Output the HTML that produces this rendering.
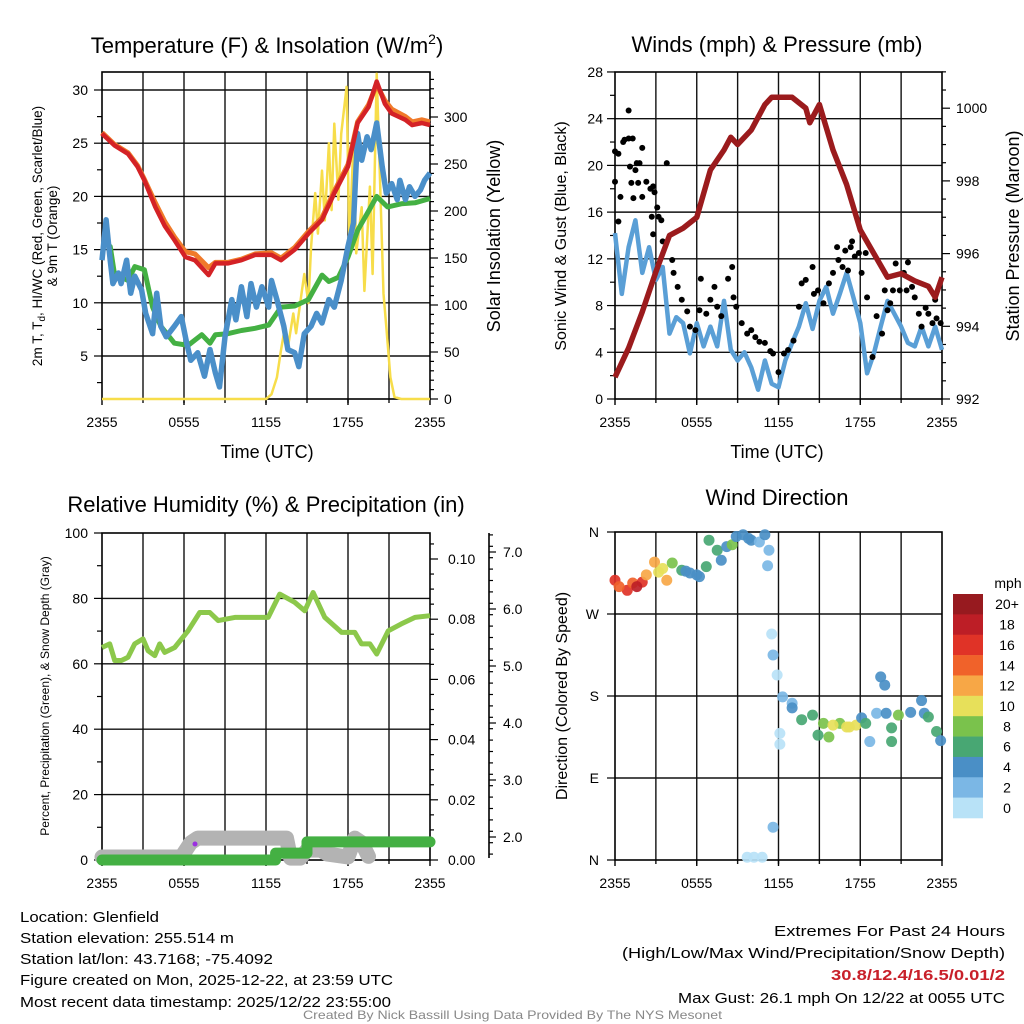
<!DOCTYPE html>
<html><head><meta charset="utf-8"><style>
html,body{margin:0;padding:0;background:#fff}
svg{display:block;font-family:"Liberation Sans",sans-serif}
</style></head><body>
<svg id="c" width="1024" height="1024" viewBox="0 0 1024 1024" xmlns="http://www.w3.org/2000/svg">
<g id="g1"></g>
<g id="g2"></g>
<g id="g3"></g>
<g id="g4"></g>
<g id="info">
<text x="20" y="922" font-size="15" textLength="139" lengthAdjust="spacingAndGlyphs">Location: Glenfield</text>
<text x="20" y="943" font-size="15" textLength="214" lengthAdjust="spacingAndGlyphs">Station elevation: 255.514 m</text>
<text x="20" y="964" font-size="15" textLength="253" lengthAdjust="spacingAndGlyphs">Station lat/lon: 43.7168; -75.4092</text>
<text x="20" y="985" font-size="15" textLength="373" lengthAdjust="spacingAndGlyphs">Figure created on Mon, 2025-12-22, at 23:59 UTC</text>
<text x="20" y="1007" font-size="15" textLength="371" lengthAdjust="spacingAndGlyphs">Most recent data timestamp: 2025/12/22 23:55:00</text>
<text x="774" y="936" font-size="15" textLength="231" lengthAdjust="spacingAndGlyphs">Extremes For Past 24 Hours</text>
<text x="622" y="958" font-size="15" textLength="383" lengthAdjust="spacingAndGlyphs">(High/Low/Max Wind/Precipitation/Snow Depth)</text>
<text x="831" y="980" font-size="15" font-weight="bold" fill="#c8202a" textLength="174" lengthAdjust="spacingAndGlyphs">30.8/12.4/16.5/0.01/2</text>
<text x="678" y="1003" font-size="15" textLength="327" lengthAdjust="spacingAndGlyphs">Max Gust: 26.1 mph On 12/22 at 0055 UTC</text>
<text x="303" y="1019" font-size="12" fill="#888" textLength="419" lengthAdjust="spacingAndGlyphs">Created By Nick Bassill Using Data Provided By The NYS Mesonet</text>
</g>
</svg>
<script>
// ---------- Data ----------
const xLabels = ["2355","0555","1155","1755","2355"];
// Panel 1
const tHours = [0,0.9,1.9,2.6,3.1,3.9,4.6,5.3,6.1,6.8,7.8,8.3,9.2,10.2,11.2,12.4,13.1,14.1,15.1,16.1,17.0,18.0,18.7,19.5,20.1,20.7,21.2,22.2,22.7,23.4,24];
const tempRed = [25.9,24.8,24.0,22.8,21.5,19.0,17.2,15.9,14.3,14.0,12.6,13.7,13.7,14.0,14.5,14.5,14.0,15.0,16.5,17.8,20.3,22.8,26.9,28.4,30.8,28.7,27.8,27.2,26.7,26.9,26.7];
const tempOrange = [26.0,24.9,24.1,22.9,21.6,19.4,17.6,16.2,14.8,14.6,13.3,13.8,13.8,14.1,14.6,14.7,14.2,15.2,16.7,18.0,20.5,23.0,27.0,28.6,30.5,29.0,28.2,27.5,27.0,27.2,27.0];
const greenHours = [0,0.6,0.9,1.9,2.4,3.1,3.7,4.3,5.3,6.3,7.3,7.9,8.3,9.2,10.2,11.2,12.2,13.1,14.1,15.1,16.1,16.6,17.3,18.0,18.7,19.5,20.1,20.9,21.9,22.9,24];
const tempGreen = [15.6,15.3,12.8,12.1,13.4,13.1,9.6,7.8,6.2,6.0,7.0,6.2,7.0,7.1,7.4,7.6,7.9,9.6,9.7,10.3,12.6,12.0,12.4,14.3,16.8,18.6,20.0,19.0,19.3,19.4,19.8];
const blueHours = [0,0.3,0.6,0.8,1.2,1.4,1.8,2.1,2.4,2.9,3.2,3.7,4.0,4.3,4.7,5.3,5.8,6.2,6.5,7.0,7.5,7.9,8.3,8.6,9.0,9.5,9.8,10.2,10.6,10.9,11.3,11.7,12.2,12.4,12.8,13.3,13.6,14.1,14.4,14.8,15.3,15.7,16.1,16.6,17.0,17.5,18.0,18.4,18.7,19.0,19.4,19.7,20.1,20.5,20.8,21.2,21.6,21.8,22.2,22.5,22.9,23.3,23.6,24];
const tempBlue = [14.0,17.8,14.0,11.8,12.8,11.8,14.0,10.9,12.5,11.2,9.0,7.1,10.9,7.8,6.8,7.8,8.7,6.2,4.6,5.3,3.1,5.6,3.4,2.1,6.8,10.3,8.4,11.5,8.7,11.8,9.6,11.5,9.6,12.1,10.3,7.8,5.6,5.3,4.0,7.1,7.8,9.0,8.1,10.3,9.6,12.1,15.3,17.5,25.9,23.4,25.6,24.4,26.9,22.8,20.3,21.2,19.7,21.5,19.7,20.9,20.0,20.6,21.5,22.2];
const solarHours = [0,12.0,12.4,12.8,13.1,13.4,13.6,14.0,14.2,14.6,14.8,15.1,15.3,15.6,15.8,16.1,16.3,16.6,16.8,17.0,17.3,17.5,17.9,18.1,18.4,18.6,19.0,19.2,19.6,19.8,20.1,20.3,20.6,20.8,21.1,21.4,21.9,24];
const solar = [0,0,5,23,52,77,55,91,70,112,133,102,162,219,176,243,190,272,201,293,212,282,332,162,276,155,204,115,226,133,346,254,112,77,23,2,0,0];
// Panel 2
const windHours = [0,0.5,1,1.5,2,2.5,3,3.5,4,4.5,5,5.5,6,6.5,7,7.5,8,8.5,9,9.5,10,10.5,11,11.5,12,12.5,13,13.5,14,14.5,15,15.5,16,16.5,17,17.5,18,18.5,19,19.5,20,20.5,21,21.5,22,22.5,23,23.5,24];
const windSpeed = [14.2,9.0,13.0,15.3,10.8,13.0,10.2,11.3,5.6,7.0,6.5,3.9,6.5,4.5,6.2,4.5,8.4,4.2,3.3,4.0,2.7,0.8,3.3,1.3,1.0,3.3,4.8,6.2,8.2,6.0,8.4,9.6,7.3,9.0,10.8,8.7,6.5,2.2,3.9,6.2,8.4,7.3,6.2,4.8,4.5,6.2,4.5,6.2,4.2];
const gustHours = [0,0.25,0,0.4,0.25,0.6,0.7,1.0,1.0,1.3,1.1,1.5,1.2,1.35,1.6,1.7,1.8,2.0,2.0,2.3,2.6,2.8,2.9,2.7,3.1,3.2,3.4,3.8,2.8,3.5,4.2,4.3,4.6,4.9,5.3,5.5,5.9,6.2,6.3,6.7,7.0,7.3,7.5,7.8,8.3,8.6,8.7,8.9,9.3,9.7,10.0,10.3,10.6,11.0,11.4,11.6,12.0,12.4,12.7,13.1,13.5,13.7,14.0,14.5,14.6,14.9,15.3,15.7,16.0,16.3,16.4,16.7,16.9,17.1,17.3,17.4,17.6,17.9,18.1,18.4,18.5,18.9,19.2,19.6,19.8,20.0,20.2,20.4,20.6,20.9,21.2,21.4,21.5,21.8,22.0,22.3,22.5,22.8,23.0,23.3,23.5,23.6,23.9];
const gustSpeed = [21.2,21.0,18.6,17.3,15.2,22.0,22.2,24.7,22.3,22.3,19.9,19.6,18.5,17.2,20.2,18.5,20.2,21.5,17.3,18.6,18.0,18.2,17.7,15.6,16.4,15.6,15.3,20.2,14.1,13.5,11.9,10.8,9.6,8.5,7.5,6.2,5.9,7.6,10.3,7.3,8.5,9.6,7.9,7.1,10.3,11.3,8.7,7.9,6.5,5.6,5.9,5.3,4.9,4.8,4.1,3.9,2.3,3.9,4.2,5.0,7.9,9.9,10.2,11.3,9.0,9.3,8.2,9.9,10.8,13.0,11.9,11.3,12.7,11.0,13.0,13.5,12.2,12.5,10.8,12.5,8.7,3.6,7.1,5.6,9.3,7.6,8.2,9.3,11.6,9.3,10.8,9.3,11.7,9.6,8.7,7.3,6.2,7.8,7.3,6.5,8.5,6.9,6.5];
const presHours = [0,1,2,3,4,5,6,7,8,8.5,9,10,11,11.5,12,13,14,14.3,15,16,17,18,19,20,21,22,23,23.5,24];
const pressure = [992.6,993.4,994.4,995.5,996.5,996.7,997.0,998.3,998.85,999.2,999.0,999.4,1000.1,1000.3,1000.3,1000.3,1000.0,999.6,1000.1,998.85,997.9,996.65,996.0,995.35,995.45,995.25,995.1,994.8,995.35];
// Panel 3
const rhHours = [0,0.56,0.93,1.42,1.9,2.39,3.0,3.37,3.86,4.22,4.59,5.32,6.3,7.15,7.89,8.5,9.72,10.94,12.16,13.0,14.1,14.84,15.45,16.3,17.53,18.5,18.99,19.6,20.1,20.95,21.9,22.9,24];
const rh = [65.0,66.1,61,61,62,66.1,67.6,64,62.5,66.1,63.5,65,70.1,75.7,75.7,73.2,74.2,74.2,74.2,81.3,78.8,76.2,81.8,74.2,69.6,69.6,66.1,66.1,63,70.1,72.2,74.2,74.7];
const precipHours = [0,12.7,12.7,15.0,15.0,24];
const precip = [0,0,0.0023,0.0023,0.006,0.006];
const snowHours = [0,5.8,6.5,7.0,13.5,13.8,14.5,15.0,16.0,16.5,18.0,18.5,19.0,19.5];
const snowDepth = [1.65,1.65,1.9,1.98,1.98,1.63,1.63,1.77,1.77,1.7,1.65,1.98,1.9,1.66];
// Panel 4
const dirHours = [0,0.9,1.3,2.0,2.3,2.9,3.5,3.8,4.2,4.9,5.5,6.2,6.7,6.9,7.5,7.8,8.2,8.6,8.9,9.4,10.0,10.6,11.0,11.3,11.2,11.5,11.6,11.9,12.3,13.0,13.0,13.7,14.5,14.9,15.7,16.5,17.2,17.7,18.1,18.4,18.7,19.2,19.5,19.8,19.9,20.3,20.3,20.8,21.7,22.5,22.7,23.0,23.6,23.9,9.7,10.2,10.8,11.6,12.1,12.1,0.3,1.6,3.2,5.2,6.0,9.8,15.3,16.0,17.0];
const dirDeg = [307,296,304,305,313,327,320,307,326,318,315,311,322,351,340,329,344,346,355,357,351,349,357,340,323,248,225,203,179,172,167,154,159,137,135,150,146,148,156,150,130,161,201,192,161,145,130,159,162,175,161,157,141,131,3,3,3,36,139,127,300,300,316,317,313,353,150,148,146];
const dirSpeed = [16,16,14,16,12,12,10,12,8,6,4,4,6,6,6,4,4,8,4,4,4,2,4,2,2,0,2,1,2,2,4,6,6,6,8,8,10,10,4,6,2,2,4,4,4,6,6,8,4,4,4,6,6,4,1,1,1,2,1,1,14,18,10,4,5,4,9,11,10];
const speedBins = ["0","2","4","6","8","10","12","14","16","18","20+"];
const binColors = ["#b8e2f7","#7bb7e5","#4a8fc6","#48a773","#7ac24c","#e7e05a","#f7a746","#f0622a","#e03327","#bd1e26","#971a1f"];
const dirLabels = ["N","E","S","W","N"];

// ---------- helpers ----------
const NS="http://www.w3.org/2000/svg";
function mk(parent,tag,attrs,txt){const e=document.createElementNS(NS,tag);for(const k in attrs)e.setAttribute(k,attrs[k]);if(txt!==undefined)e.textContent=txt;parent.appendChild(e);return e;}
function pathFrom(xs,ys,fx,fy){return xs.map((h,i)=>(i?"L":"M")+fx(h).toFixed(1)+","+fy(ys[i]).toFixed(1)).join("");}
function frame(g,x0,x1,y0,y1){
  for(let i=1;i<8;i++){const x=x0+(x1-x0)*i/8;const l=mk(g,"line",{x1:x,x2:x,y1:y0,y2:y1+4,stroke:"#111","stroke-width":1.4});
    
    }
  const r=mk(g,"rect",{x:x0,y:y0,width:x1-x0,height:y1-y0,fill:"none",stroke:"#000","stroke-width":1.6});
  
  
  xLabels.forEach((s,i)=>{const x=x0+(x1-x0)*i/4;mk(g,"line",{x1:x,x2:x,y1:y1,y2:y1+6,stroke:"#000","stroke-width":1.4});
    const t=mk(g,"text",{x:x,y:y1+28,"font-size":14,"text-anchor":"middle"},s);
    
    });
}
function hgrid(g,x0,x1,y){const l=mk(g,"line",{x1:x0,x2:x1,y1:y,y2:y,stroke:"#111","stroke-width":1.4});
  
  }
function ylab(g,x,y,s,anchor){const t=mk(g,"text",{x:x,y:y+5,"font-size":14,"text-anchor":anchor},s);
  
  return t;}
function tick(g,x,y,len){mk(g,"line",{x1:x,x2:x+len,y1:y,y2:y,stroke:"#000","stroke-width":1.2});}
function title(g,x,y,s,size){const t=mk(g,"text",{x:x,y:y,"font-size":size,"text-anchor":"middle"},s);return t;}
function rotTitle(g,x,y,s,size){const t=mk(g,"text",{x:x,y:y,"font-size":size,"text-anchor":"middle",transform:`rotate(-90 ${x} ${y})`},s);return t;}

// ---------- Panel 1 ----------
(function(){
const g=document.getElementById("g1");
const x0=102,x1=430,y0=72,y1=399;
const fx=h=>x0+(x1-x0)*h/24, fy=t=>90+(30-t)*10.64, fs=v=>399-v*0.94;
for(let t=5;t<=30;t+=5){hgrid(g,x0,x1,fy(t));tick(g,x0-8,fy(t),8);ylab(g,x0-14,fy(t),String(t),"end");}
for(let t=2.5;t<=30;t+=5)tick(g,x0-5,fy(t),5);
for(let v=0;v<=300;v+=50){tick(g,x1,fs(v),8);ylab(g,x1+14,fs(v),String(v),"start");}
for(let v=10;v<=340;v+=10)if(v%50)tick(g,x1,fs(v),4);
frame(g,x0,x1,y0,y1);
const ys=mk(g,"path",{d:pathFrom(solarHours,solar,fx,fs),fill:"none",stroke:"#f7dd4a","stroke-width":2.5,"stroke-linejoin":"round"});


const gr=mk(g,"path",{d:pathFrom(greenHours,tempGreen,fx,fy),fill:"none",stroke:"#44b043","stroke-width":5,"stroke-linejoin":"round"});


const bl=mk(g,"path",{d:pathFrom(blueHours,tempBlue,fx,fy),fill:"none",stroke:"#4a8fc9","stroke-width":5.5,"stroke-linejoin":"round"});


const or=mk(g,"path",{d:pathFrom(tHours,tempOrange,fx,fy),fill:"none",stroke:"#f07a2a","stroke-width":5,"stroke-linejoin":"round"});


const rd=mk(g,"path",{d:pathFrom(tHours,tempRed,fx,fy),fill:"none",stroke:"#d42226","stroke-width":4.5,"stroke-linejoin":"round"});


const t1=mk(g,"text",{x:267,y:53,"font-size":22,"text-anchor":"middle"});
t1.innerHTML='Temperature (F) &amp; Insolation (W/m<tspan dy="-9" font-size="14">2</tspan><tspan dy="9">)</tspan>';


const xt=title(g,267,458,"Time (UTC)",18);


const yl=mk(g,"text",{x:42,y:236,"font-size":13.5,"text-anchor":"middle",transform:"rotate(-90 42 236)"});
yl.innerHTML='2m T, T<tspan dy="3" font-size="10">d</tspan><tspan dy="-3">, HI/WC (Red, Green, Scarlet/Blue)</tspan>';


const yl2=rotTitle(g,57,236,"& 9m T (Orange)",13.5);


const yr=rotTitle(g,500,236,"Solar Insolation (Yellow)",18);


})();

// ---------- Panel 2 ----------
(function(){
const g=document.getElementById("g2");
const x0=615,x1=942,y0=72,y1=399;
const fx=h=>x0+(x1-x0)*h/24, fy=w=>399-w*11.68, fp=p=>399-(p-992)*36.35;
for(let w=0;w<=28;w+=4){if(w>0&&w<28)hgrid(g,x0,x1,fy(w));tick(g,x0-8,fy(w),8);ylab(g,x0-12,fy(w),String(w),"end");}
for(let w=2;w<=28;w+=4)tick(g,x0-5,fy(w),5);
for(let p=992;p<=1000;p+=2){tick(g,x1,fp(p),8);ylab(g,x1+14,fp(p),String(p),"start");}
for(let p=992.5;p<=1001;p+=0.5)if(p%2)tick(g,x1,fp(p),4);
frame(g,x0,x1,y0,y1);
const bl=mk(g,"path",{d:pathFrom(windHours,windSpeed,fx,fy),fill:"none",stroke:"#5a9fd6","stroke-width":4.5,"stroke-linejoin":"round"});


gustHours.forEach((h,i)=>{const c=mk(g,"circle",{cx:fx(h),cy:fy(gustSpeed[i]),r:3,fill:"#000"});
  
  });
const pr=mk(g,"path",{d:pathFrom(presHours,pressure,fx,fp),fill:"none",stroke:"#9b1b1d","stroke-width":5.5,"stroke-linejoin":"round"});


const t=title(g,777,52,"Winds (mph) & Pressure (mb)",22);


const xt=title(g,777,458,"Time (UTC)",18);


const yl=rotTitle(g,566,236,"Sonic Wind & Gust (Blue, Black)",16);


const yr=rotTitle(g,1019,236,"Station Pressure (Maroon)",18);


})();

// ---------- Panel 3 ----------
(function(){
const g=document.getElementById("g3");
const x0=102,x1=430,y0=533,y1=860;
const fx=h=>x0+(x1-x0)*h/24, fy=v=>860-v*3.27, fpr=p=>860-p*3010, fsn=s=>837-(s-2)*57;
for(let v=0;v<=100;v+=20){if(v>0&&v<100)hgrid(g,x0,x1,fy(v));tick(g,x0-8,fy(v),8);ylab(g,x0-14,fy(v),String(v),"end");}
for(let v=10;v<=100;v+=20)tick(g,x0-5,fy(v),5);
for(let p=0;p<=0.10001;p+=0.02){tick(g,x1,fpr(p),8);ylab(g,x1+18,fpr(p),p.toFixed(2),"start");}
for(let p=0.005;p<=0.108;p+=0.005)if(Math.round(p*1000)%20)tick(g,x1,fpr(p),4);
mk(g,"line",{x1:489,x2:489,y1:533,y2:858,stroke:"#000","stroke-width":1.6});
for(let s=2;s<=7;s++){tick(g,489,fsn(s),7);ylab(g,503,fsn(s),s.toFixed(1),"start");}
for(let s=1.7;s<=7.4;s+=0.2)tick(g,489,fsn(s),4);
frame(g,x0,x1,y0,y1);
const sn=mk(g,"path",{d:pathFrom(snowHours,snowDepth,fx,fsn),fill:"none",stroke:"#b3b3b3","stroke-width":15,"stroke-linejoin":"round","stroke-linecap":"round"});


const pr=mk(g,"path",{d:pathFrom(precipHours,precip,fx,fpr),fill:"none",stroke:"#44b043","stroke-width":11,"stroke-linejoin":"round","stroke-linecap":"round"});


const rl=mk(g,"path",{d:pathFrom(rhHours,rh,fx,fy),fill:"none",stroke:"#8cc84b","stroke-width":5,"stroke-linejoin":"round"});


const pd=mk(g,"circle",{cx:195,cy:844,r:2.5,fill:"#9b30e0"});


const t=title(g,266,512,"Relative Humidity (%) & Precipitation (in)",22);


const yl=rotTitle(g,49,696,"Percent, Precipitation (Green), & Snow Depth (Gray)",12);


})();

// ---------- Panel 4 ----------
(function(){
const g=document.getElementById("g4");
const x0=615,x1=942,y0=532,y1=860;
const fx=h=>x0+(x1-x0)*h/24, fy=d=>860-d*(y1-y0)/360;
dirLabels.forEach((s,i)=>{const y=fy(i*90);if(i>0&&i<4)hgrid(g,x0,x1,y);tick(g,x0-8,y,8);ylab(g,x0-16,y,s,"end");});
frame(g,x0,x1,y0,y1);
dirHours.forEach((h,i)=>{const b=Math.min(10,Math.floor(dirSpeed[i]/2));
  const c=mk(g,"circle",{cx:fx(h),cy:fy(dirDeg[i]),r:5.5,fill:binColors[b],"fill-opacity":0.92});
  
  });
const t=title(g,777,505,"Wind Direction",22);


const yl=rotTitle(g,567,696,"Direction (Colored By Speed)",16);


const cb=mk(g,"g",{});


const bh=(818-594)/11;
for(let i=0;i<11;i++){const idx=10-i;const y=594+i*bh;
  const r=mk(cb,"rect",{x:953,y:y,width:30,height:bh+0.3,fill:binColors[idx]});
  
  
  const tx=mk(cb,"text",{x:1007,y:y+bh/2+5,"font-size":14,"text-anchor":"middle"},speedBins[idx]);
  
  }
const u=mk(cb,"text",{x:1008,y:588,"font-size":14,"text-anchor":"middle"},"mph");


})();
</script>
</body></html>
